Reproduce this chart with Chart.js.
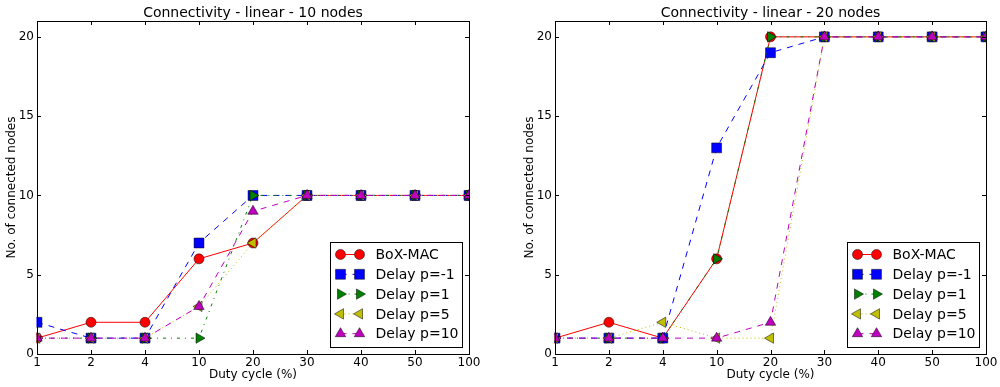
<!DOCTYPE html>
<html lang="en">
<head>
  <meta charset="UTF-8">
  <title>Connectivity - linear</title>
  <script src="https://cdn.jsdelivr.net/npm/chart.js"></script>
  <style>
    body { margin: 0; background: #fff; }
    #wrap { display: flex; width: 1000px; height: 387px; }
    canvas { display: block; }
  </style>
</head>
<body>
  <div id="wrap">
    <canvas id="c10" width="500" height="387"></canvas>
    <canvas id="c20" width="500" height="387"></canvas>
  </div>
  <script>
    // duty cycle categories (x axis, equally spaced)
    const dutyCycles = ['1', '2', '4', '10', '20', '30', '40', '50', '100'];
    const seriesNames = ['BoX-MAC', 'Delay p=-1', 'Delay p=1', 'Delay p=5', 'Delay p=10'];
    const yTicks = [0, 5, 10, 15, 20];

    // 10 nodes
    const boxmac10 = [1, 2, 2, 6, 7, 10, 10, 10, 10];
    const delayM1_10 = [2, 1, 1, 7, 10, 10, 10, 10, 10];
    const delayP1_10 = [1, 1, 1, 1, 10, 10, 10, 10, 10];
    const delayP5_10 = [1, 1, 1, 3, 7, 10, 10, 10, 10];
    const delayP10_10 = [1, 1, 1, 3, 9, 10, 10, 10, 10];

    // 20 nodes
    const boxmac20 = [1, 2, 1, 6, 20, 20, 20, 20, 20];
    const delayM1_20 = [1, 1, 1, 13, 19, 20, 20, 20, 20];
    const delayP1_20 = [1, 1, 1, 6, 20, 20, 20, 20, 20];
    const delayP5_20 = [1, 1, 2, 1, 1, 20, 20, 20, 20];
    const delayP10_20 = [1, 1, 1, 1, 2, 20, 20, 20, 20];

    // matplotlib-like styles: r-o, b--s, g-.>, y:<, m--^
    const styles = [
      { color: '#ff0000', dash: [], point: 'circle', rot: 0, r: 5 },
      { color: '#0000ff', dash: [6, 6], point: 'rect', rot: 0, r: 7 },
      { color: '#008000', dash: [3, 5, 1, 5], point: 'triangle', rot: 90, r: 6 },
      { color: '#bfbf00', dash: [1, 3], point: 'triangle', rot: -90, r: 6 },
      { color: '#bf00bf', dash: [6, 6], point: 'triangle', rot: 0, r: 6 }
    ];
    const edgeColor = 'rgba(0,0,0,0.5)';

    Chart.defaults.font.family = "'DejaVu Sans', sans-serif";
    Chart.defaults.color = '#000';

    function marker(ctx, st, x, y) {
      ctx.fillStyle = st.color;
      ctx.strokeStyle = edgeColor;
      ctx.lineWidth = 1;
      ctx.setLineDash([]);
      Chart.helpers.drawPoint(ctx, { pointStyle: st.point, rotation: st.rot, radius: st.r, borderWidth: 1 }, x, y);
    }

    // frame, inward ticks, title and legend drawn like matplotlib
    const decor = {
      id: 'decor',
      afterDraw(chart, args, opts) {
        const { ctx, chartArea: a, scales } = chart;
        ctx.save();
        ctx.strokeStyle = '#000';
        ctx.lineWidth = 1;
        ctx.setLineDash([]);
        ctx.beginPath();
        scales.x.ticks.forEach((t, i) => {
          const px = Math.round(scales.x.getPixelForTick(i)) + 0.5;
          ctx.moveTo(px, a.bottom); ctx.lineTo(px, a.bottom - 4);
          ctx.moveTo(px, a.top); ctx.lineTo(px, a.top + 4);
        });
        yTicks.forEach(v => {
          const py = Math.round(scales.y.getPixelForValue(v)) + 0.5;
          ctx.moveTo(a.left, py); ctx.lineTo(a.left + 4, py);
          ctx.moveTo(a.right, py); ctx.lineTo(a.right - 4, py);
        });
        ctx.stroke();
        ctx.strokeRect(Math.round(a.left) + 0.5, Math.round(a.top) + 0.5,
          Math.round(a.right - a.left), Math.round(a.bottom - a.top));

        // title
        ctx.fillStyle = '#000';
        ctx.font = "14px 'DejaVu Sans', sans-serif";
        ctx.textAlign = 'center';
        ctx.textBaseline = 'alphabetic';
        ctx.fillText(opts.title, (a.left + a.right) / 2, 16.5);

        // legend box (lower right)
        const w = 132, h = 105;
        const lx = Math.round(a.right - 7 - w) + 0.5;
        const ly = Math.round(a.bottom - 7 - h) + 0.5;
        ctx.fillStyle = '#fff';
        ctx.fillRect(lx, ly, w, h);
        ctx.strokeStyle = '#000';
        ctx.strokeRect(lx, ly, w, h);
        seriesNames.forEach((name, i) => {
          const st = styles[i];
          const y = ly + 12 + i * 19.8;
          const x1 = lx + 10, x2 = lx + 29;
          ctx.strokeStyle = st.color;
          ctx.lineWidth = 1;
          ctx.setLineDash(st.dash);
          ctx.beginPath();
          ctx.moveTo(x1, y); ctx.lineTo(x2, y);
          ctx.stroke();
          marker(ctx, st, x1, y);
          marker(ctx, st, x2, y);
          ctx.fillStyle = '#000';
          ctx.font = "14px 'DejaVu Sans', sans-serif";
          ctx.textAlign = 'left';
          ctx.textBaseline = 'middle';
          ctx.fillText(name, lx + 45, y + 1);
        });
        ctx.restore();
      }
    };

    function makeChart(id, title, series, padLeft, rightGap) {
      const datasets = series.map((data, i) => ({
        label: seriesNames[i],
        data: data,
        borderColor: styles[i].color,
        backgroundColor: styles[i].color,
        borderWidth: 1,
        borderDash: styles[i].dash,
        tension: 0,
        clip: 0.5,
        pointStyle: styles[i].point,
        pointRotation: styles[i].rot,
        pointRadius: styles[i].r,
        pointBackgroundColor: styles[i].color,
        pointBorderColor: edgeColor,
        pointBorderWidth: 1,
        order: series.length - i
      }));
      new Chart(document.getElementById(id), {
        type: 'line',
        data: { labels: dutyCycles, datasets: datasets },
        options: {
          responsive: false,
          animation: false,
          events: [],
          layout: { padding: { left: padLeft, top: 21, right: 0, bottom: 0 } },
          plugins: {
            legend: { display: false },
            tooltip: { enabled: false },
            decor: { title: title }
          },
          scales: {
            x: {
              offset: false,
              grid: { display: false, drawTicks: false },
              border: { display: false },
              ticks: { font: { size: 12 }, padding: 2, maxRotation: 0, autoSkip: false },
              title: { display: true, text: 'Duty cycle (%)', font: { size: 12 }, padding: { top: 0, bottom: 5 } },
              afterFit: s => { s.height = 33; }
            },
            y: {
              min: 0, max: 21,
              grid: { display: false, drawTicks: false },
              border: { display: false },
              ticks: { stepSize: 5, includeBounds: false, font: { size: 12 }, padding: 3 },
              title: { display: true, text: 'No. of connected nodes', font: { size: 12 }, padding: { top: 5, bottom: 0 } },
              afterFit: s => { s.width = 37; }
            },
            y2: {
              position: 'right',
              min: 0, max: 21,
              grid: { display: false, drawTicks: false },
              border: { display: false },
              ticks: { display: false },
              afterFit: s => { s.width = rightGap; }
            }
          }
        },
        plugins: [decor]
      });
    }

    makeChart('c10', 'Connectivity - linear - 10 nodes',
      [boxmac10, delayM1_10, delayP1_10, delayP5_10, delayP10_10], 0, 31);
    makeChart('c20', 'Connectivity - linear - 20 nodes',
      [boxmac20, delayM1_20, delayP1_20, delayP5_20, delayP10_20], 18, 14);
  </script>
</body>
</html>
